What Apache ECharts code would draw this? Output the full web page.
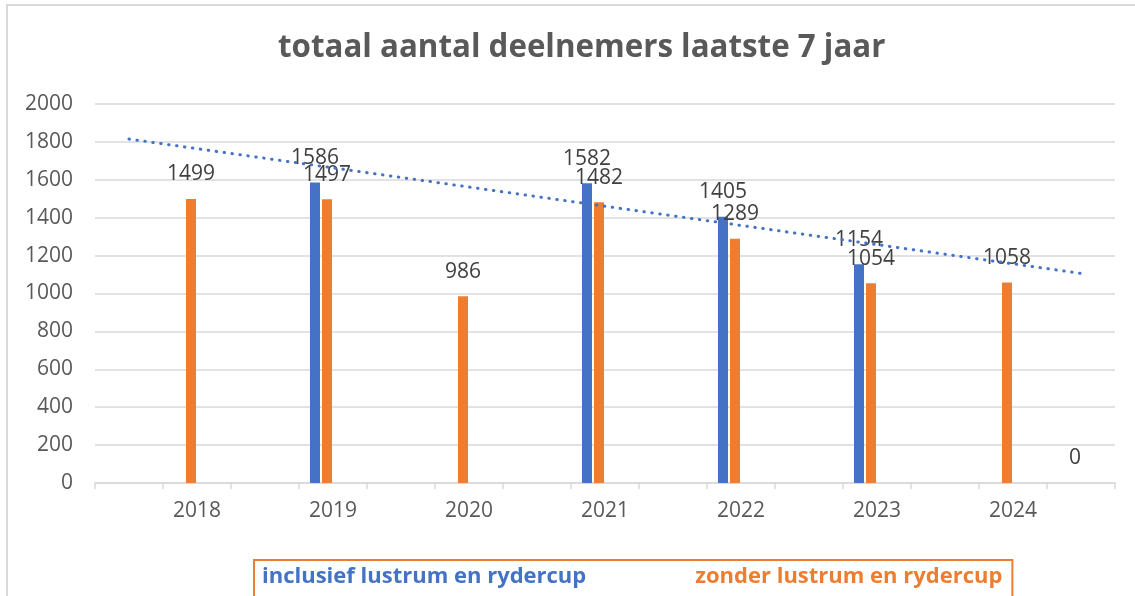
<!DOCTYPE html>
<html>
<head>
<meta charset="utf-8">
<script src="https://cdn.jsdelivr.net/npm/echarts@6/dist/echarts.min.js"></script>
<style>
  html, body { margin: 0; padding: 0; background: #fff; }
  #chart { width: 1135px; height: 596px; }
</style>
</head>
<body>
<div id="chart"></div>
<script>
const title = 'totaal aantal deelnemers laatste 7 jaar';
const years = ['2018', '2019', '2020', '2021', '2022', '2023', '2024'];
const inclusief = [null, 1586, null, 1582, 1405, 1154, null]; // met lustrum / rydercup
const zonder = [1499, 1497, 986, 1482, 1289, 1054, 1058];
const zonderTail = 0; // lege categorie na 2024
const trendStart = 1815; // stippellijn links
const trendEnd = 1106;   // stippellijn rechts
const yTicks = { min: 0, max: 2000, interval: 200 };

const font = 'Open Sans';
const blue = '#4472C4';
const orange = '#ED7D31';

// 15 slots: lege tussenplaatsen, jaartallen op de oneven plekken
const categories = [''];
years.forEach(y => { categories.push(y, ''); });
const slot = (vals, tail) => {
  const out = categories.map(() => null);
  vals.forEach((v, i) => { out[2 * i + 1] = v; });
  if (tail !== undefined) out[categories.length - 1] = tail;
  return out;
};
const trend = categories.map(() => null);
trend[0] = trendStart;
trend[categories.length - 1] = trendEnd;

const barLabel = {
  show: true,
  position: 'top',
  distance: 14,
  color: '#404040',
  fontSize: 21,
  fontFamily: font
};

const option = {
  backgroundColor: '#fff',
  animation: false,
  title: {
    text: title,
    left: 273,
    top: 28,
    textStyle: { color: '#595959', fontSize: 31.3, fontWeight: 'bold', fontFamily: font }
  },
  graphic: [{
    type: 'rect',
    shape: { x: 7, y: 5, width: 1140, height: 600 },
    style: { fill: 'none', stroke: '#d9d9d9', lineWidth: 2 },
    silent: true
  }],
  legend: {
    left: 254,
    top: 560,
    data: [
      { name: 'inclusief lustrum en rydercup', textStyle: { color: blue } },
      { name: 'zonder lustrum en rydercup', textStyle: { color: orange } }
    ],
    icon: 'none',
    itemWidth: 0,
    itemGap: 104,
    padding: [6, 10, 12, 3],
    borderColor: orange,
    borderWidth: 2,
    borderRadius: 0,
    selectedMode: false,
    textStyle: { fontSize: 22, fontWeight: 'bold', fontFamily: font }
  },
  grid: { left: 95, right: 20, top: 104, bottom: 113, containLabel: false },
  xAxis: {
    type: 'category',
    data: categories,
    axisLine: { lineStyle: { color: '#d9d9d9', width: 1.5 } },
    axisTick: { show: true, interval: 0, length: 6, lineStyle: { color: '#d9d9d9', width: 1.5 } },
    axisLabel: { interval: 0, color: '#595959', fontSize: 21, fontFamily: font, margin: 18 }
  },
  yAxis: {
    type: 'value',
    min: yTicks.min,
    max: yTicks.max,
    interval: yTicks.interval,
    axisLine: { show: false },
    axisTick: { show: false },
    axisLabel: { color: '#595959', fontSize: 21, fontFamily: font, margin: 22, formatter: v => String(v) },
    splitLine: { lineStyle: { color: '#d9d9d9', width: 1.5 } }
  },
  series: [
    {
      name: 'inclusief lustrum en rydercup',
      type: 'bar',
      barWidth: 10,
      barGap: '20%',
      itemStyle: { color: blue },
      label: barLabel,
      data: slot(inclusief)
    },
    {
      name: 'zonder lustrum en rydercup',
      type: 'bar',
      barWidth: 10,
      barGap: '20%',
      itemStyle: { color: orange },
      label: barLabel,
      data: slot(zonder, zonderTail)
    },
    // twee lege reeksen (zoals in het origineel) houden de ruimte rechts van de staven vrij
    { name: 'leeg1', type: 'bar', barWidth: 10, barGap: '20%', data: categories.map(() => null) },
    { name: 'leeg2', type: 'bar', barWidth: 10, barGap: '20%', data: categories.map(() => null) },
    {
      name: 'trend',
      type: 'line',
      data: trend,
      connectNulls: true,
      symbol: 'none',
      z: 5,
      lineStyle: { color: blue, width: 3, type: [0.5, 7.5], cap: 'round' }
    }
  ]
};

const chart = echarts.init(document.getElementById('chart'));
chart.setOption(option);
</script>
</body>
</html>
